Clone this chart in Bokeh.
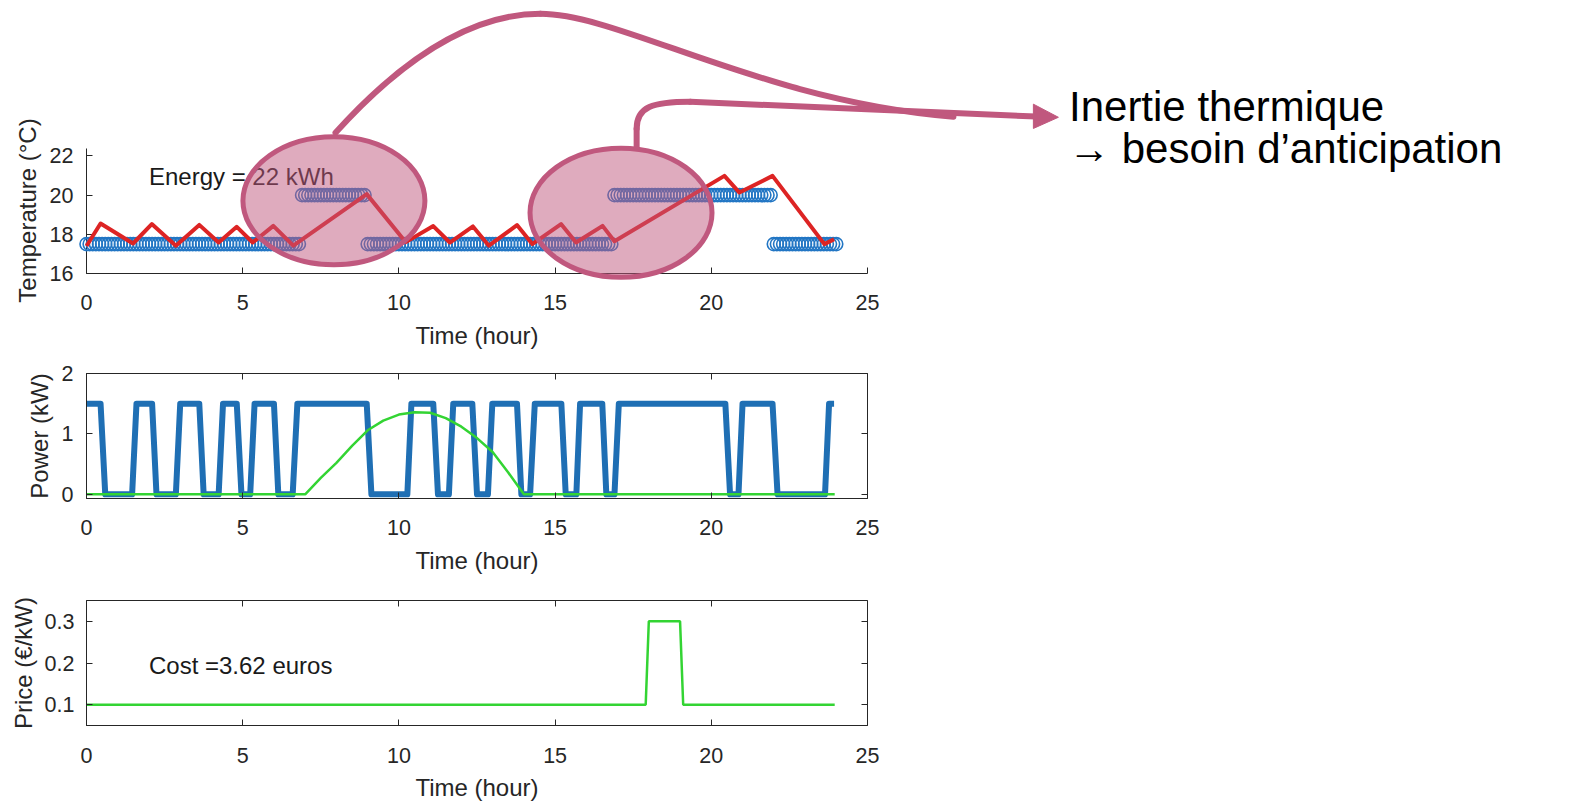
from bokeh.plotting import figure
from bokeh.models import Range1d, FixedTicker, LinearAxis, Label
from bokeh.layouts import column
from bokeh.embed import file_html
from bokeh.resources import INLINE
from bokeh.core.properties import value

# ---------------- data ----------------
hour_ticks = [0, 5, 10, 15, 20, 25]
temp_ticks = [16, 18, 20, 22]
power_ticks = [0, 1, 2]
price_ticks = [0.1, 0.2, 0.3]

# comfort set-point (drawn as circle markers every 0.1 h)
setpoint_start = [0.0, 6.9, 9.0, 16.9, 22.0]
setpoint_end = [6.8, 8.9, 16.8, 21.9, 24.0]
setpoint_value = [17.5, 20.0, 17.5, 20.0, 17.5]
setpoint_step = 0.1

# indoor temperature
temp_t = [0.0, 0.45, 1.49, 2.09, 2.86, 3.61, 4.23, 4.81, 5.32, 5.98, 6.62, 8.97,
          10.22, 11.1, 11.63, 12.37, 12.88, 13.78, 14.27, 15.19, 15.67, 16.52, 16.9,
          20.42, 20.9, 21.96, 23.62, 23.93]
temp_v = [17.4, 18.55, 17.53, 18.52, 17.42, 18.48, 17.58, 18.38, 17.58, 18.43, 17.42, 20.05,
          17.6, 18.42, 17.58, 18.4, 17.42, 18.47, 17.5, 18.52, 17.58, 18.43, 17.65,
          20.98, 20.13, 20.98, 17.5, 17.75]

# heating power
power_t = [0.0, 0.45, 0.6, 1.46, 1.6, 2.1, 2.24, 2.86, 3.0, 3.61, 3.75, 4.23, 4.37, 4.81,
           4.96, 5.24, 5.38, 6.0, 6.14, 6.6, 6.75, 8.97, 9.12, 10.27, 10.4, 11.1, 11.25,
           11.6, 11.74, 12.35, 12.5, 12.85, 12.99, 13.78, 13.92, 14.2, 14.35, 15.2, 15.34,
           15.68, 15.8, 16.51, 16.64, 16.9, 17.04, 20.45, 20.6, 20.87, 21.0, 21.96, 22.12,
           23.64, 23.77, 23.93]
power_v = [1.5, 1.5, 0, 0, 1.5, 1.5, 0, 0, 1.5, 1.5, 0, 0, 1.5, 1.5,
           0, 0, 1.5, 1.5, 0, 0, 1.5, 1.5, 0, 0, 1.5, 1.5, 0,
           0, 1.5, 1.5, 0, 0, 1.5, 1.5, 0, 0, 1.5, 1.5, 0,
           0, 1.5, 1.5, 0, 0, 1.5, 1.5, 0, 0, 1.5, 1.5, 0,
           0, 1.5, 1.5]

# solar gain
solar_t = [0.0, 7.0, 7.5, 8.0, 8.5, 9.0, 9.5, 10.0, 10.5, 11.0, 11.5, 12.0, 12.5, 13.0,
           13.5, 14.0, 23.95]
solar_v = [0.0, 0.0, 0.27, 0.52, 0.8, 1.06, 1.22, 1.32, 1.36, 1.35, 1.26, 1.12, 0.93, 0.7,
           0.36, 0.0, 0.0]

# electricity price
price_t = [0.0, 17.9, 18.0, 19.0, 19.1, 23.95]
price_v = [0.1, 0.1, 0.3, 0.3, 0.1, 0.1]

energy_text = "Energy = 22 kWh"
cost_text = "Cost =3.62 euros"
note_lines = ["Inertie thermique", "\u2192 besoin d\u2019anticipation"]

# ---------------- style ----------------
FONT = "Liberation Sans"
AXC = "#262626"
PINK = "#C0587E"
BLUE = "#1F6FB4"
RING = "#2276C4"
RED = "#DD2424"
GREEN = "#33D433"
TICK_FS = "21.5px"
LAB_FS = "24px"

PX_H = 31.24   # px per hour (all panels)
PX_T = 19.6    # px per degree (temperature panel)
OX, OY = 86, 273      # page position of (0 h, 16 degC)
FRAME_W = 781
FRAME_TOP = 147       # top of the temperature axes
STRIP_H = 84          # height of the strip above the temperature figure
PAGE_W = 1570
RB = PAGE_W - OX - FRAME_W   # right border shared by every figure
BORDER_B = 88


def ty(py):
    return 16 + (OY - py) / PX_T


def style_axes(p, xlabel, ylabel, xt, yt, x_std=21, y_std=13, xl_std=9, yl_std=6):
    for ax in p.xaxis:
        ax.ticker = FixedTicker(ticks=xt)
        ax.axis_label = xlabel
        ax.major_label_standoff = x_std
        ax.axis_label_standoff = xl_std
    for ax in p.yaxis:
        ax.ticker = FixedTicker(ticks=yt)
        ax.axis_label = ylabel
        ax.major_label_standoff = y_std
        ax.axis_label_standoff = yl_std
    for ax in p.xaxis + p.yaxis:
        ax.minor_tick_line_color = None
        ax.major_tick_in = 6
        ax.major_tick_out = 0
        ax.axis_line_color = AXC
        ax.major_tick_line_color = AXC
        ax.major_label_text_color = AXC
        ax.major_label_text_font = FONT
        ax.major_label_text_font_size = TICK_FS
        ax.axis_label_text_font = FONT
        ax.axis_label_text_font_size = LAB_FS
        ax.axis_label_text_font_style = "normal"
        ax.axis_label_text_color = AXC
    p.xgrid.visible = False
    p.ygrid.visible = False


def mirror_axes(p, xt, yt):
    top = LinearAxis(ticker=FixedTicker(ticks=xt))
    right = LinearAxis(ticker=FixedTicker(ticks=yt))
    for ax in (top, right):
        ax.minor_tick_line_color = None
        ax.major_tick_in = 6
        ax.major_tick_out = 0
        ax.axis_line_color = None
        ax.major_tick_line_color = AXC
        ax.major_label_text_color = None
        ax.major_label_text_font_size = "1px"
        ax.major_label_standoff = 0
    p.add_layout(top, "above")
    p.add_layout(right, "right")


def draw_connectors(p, level="glyph"):
    kw = dict(line_color=PINK, line_width=6, line_cap="round", level=level)
    # curve from the first highlight, up and over towards the arrow
    p.bezier(x0=[7.97, 14.53], y0=[23.18, 29.25], x1=[14.53, 27.75], y1=[29.25, 24.0],
             cx0=[10.05, 17.09], cy0=[26.85, 29.25], cx1=[12.29, 21.57], cy1=[29.25, 24.81],
             **kw)
    # curve from the second highlight, ending in the arrow
    p.line([17.61, 17.61], [22.46, 23.38], **kw)
    p.bezier(x0=[17.61], y0=[23.38], x1=[19.33], y1=[24.76], cx0=[17.61], cy0=[24.5],
             cx1=[18.12], cy1=[24.76], **kw)
    p.line([19.33, 30.40], [24.76, 24.01], **kw)
    p.patch([30.31, 31.11, 30.31], [24.64, 23.97, 23.40], fill_color=PINK, line_color=PINK,
            line_width=1, level=level)


# ---------------- strip above the temperature axes ----------------
pa = figure(frame_width=FRAME_W, frame_height=STRIP_H, output_backend="svg",
            toolbar_location=None, x_range=Range1d(0, 25), y_range=Range1d(ty(STRIP_H), ty(0)),
            x_axis_location=None, y_axis_location=None,
            min_border_left=OX, min_border_right=RB, min_border_top=0, min_border_bottom=0)
pa.outline_line_color = None
pa.xgrid.visible = False
pa.ygrid.visible = False
draw_connectors(pa)

# ---------------- temperature panel (with the slide annotation) ----------------
p1 = figure(frame_width=FRAME_W, frame_height=OY - FRAME_TOP, output_backend="svg",
            toolbar_location=None,
            x_range=Range1d(0, 25), y_range=Range1d(16, ty(FRAME_TOP)),
            min_border_left=OX, min_border_right=RB,
            min_border_top=FRAME_TOP - STRIP_H, min_border_bottom=BORDER_B)
p1.outline_line_color = None
style_axes(p1, "Time (hour)", "Temperature (\u00b0C)", hour_ticks, temp_ticks)
p1.yaxis.bounds = (16, 22.4)

sp_t, sp_v = [], []
for a, b, v in zip(setpoint_start, setpoint_end, setpoint_value):
    n = int(round((b - a) / setpoint_step)) + 1
    for i in range(n):
        sp_t.append(round(a + i * setpoint_step, 3))
        sp_v.append(v)
p1.add_layout(Label(x=2.0, y=20.93, text=energy_text, text_font=FONT, text_font_size="24px",
                    text_color="#1a1a1a", text_baseline="alphabetic"))
p1.scatter(sp_t, sp_v, marker="circle", size=13, fill_color=None, line_color=RING,
           line_width=1.6, level="overlay")
p1.line(temp_t, temp_v, line_color=RED, line_width=4, line_join="round", level="overlay")
p1.ellipse(x=[7.92, 17.11], y=[19.71, 19.10], width=[182, 182], height=[128, 129],
           width_units="screen", height_units="screen",
           fill_color=PINK, fill_alpha=0.5, line_color=PINK, line_width=5, level="overlay")
draw_connectors(p1, level="overlay")
p1.text(x=[31.45, 31.42], y=[24.51, 22.40], text=note_lines, text_font=value(FONT),
        text_font_size=value("42px"), text_color="#000000", text_baseline="alphabetic",
        level="overlay")

# ---------------- power panel ----------------
p2 = figure(frame_width=FRAME_W, frame_height=125, output_backend="svg", toolbar_location=None,
            x_range=Range1d(0, 25), y_range=Range1d(-0.07, 2.0),
            min_border_left=OX, min_border_right=RB, min_border_top=373 - (OY + BORDER_B),
            min_border_bottom=BORDER_B)
p2.outline_line_color = AXC
style_axes(p2, "Time (hour)", "Power (kW)", hour_ticks, power_ticks)
mirror_axes(p2, hour_ticks, power_ticks)
p2.line(power_t, power_v, line_color=BLUE, line_width=6, line_join="round")
p2.line(solar_t, solar_v, line_color=GREEN, line_width=2.5)

# ---------------- price panel ----------------
p3 = figure(frame_width=FRAME_W, frame_height=125, output_backend="svg", toolbar_location=None,
            x_range=Range1d(0, 25), y_range=Range1d(0.05, 0.35),
            min_border_left=OX, min_border_right=RB, min_border_top=600 - (498 + BORDER_B),
            min_border_bottom=77)
p3.outline_line_color = AXC
style_axes(p3, "Time (hour)", "Price (\u20ac/kW)", hour_ticks, price_ticks, x_std=22, y_std=12,
           xl_std=8, yl_std=5)
mirror_axes(p3, hour_ticks, price_ticks)
p3.line(price_t, price_v, line_color=GREEN, line_width=2.5)
p3.add_layout(Label(x=2.0, y=0.193, text=cost_text, text_font=FONT, text_font_size="24px",
                    text_color="#1a1a1a", text_baseline="alphabetic"))

layout = column(pa, p1, p2, p3, spacing=0)
open("out.html", "w").write(file_html(layout, INLINE))
